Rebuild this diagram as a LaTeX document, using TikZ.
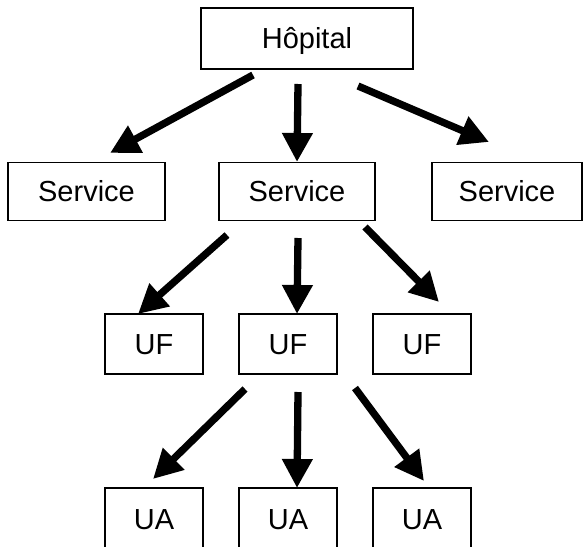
\documentclass[tikz,border=0pt]{standalone}
\usepackage{fontspec}
\setmainfont{Liberation Sans}
\usetikzlibrary{arrows.meta}
\begin{document}
\begin{tikzpicture}[x=1pt,y=-1pt,
  box/.style={draw, line width=1.6pt, inner sep=0pt, minimum width=#1,
    minimum height=58pt, font=\fontsize{29}{34}\selectfont,
    text height=20.8pt, text depth=0pt},
  box/.default=98pt,
  link/.style={line width=7.3pt, -{Triangle[length=29pt,width=29pt]}}]
\useasboundingbox (0,0) rectangle (583,546);
% top level
\node[box=212pt, minimum height=61pt] (hop) at (307,38.5) {Hôpital};
% services
\node[box=157pt] (s1) at (86.5,191.5) {Service};
\node[box=156pt] (s2) at (297,191.5) {Service};
\node[box=150pt] (s3) at (507,191.5) {Service};
% functional units
\node[box, minimum height=60pt] (uf1) at (154,344) {UF};
\node[box, minimum height=60pt] (uf2) at (288,344) {UF};
\node[box, minimum height=60pt] (uf3) at (422,344) {UF};
% care units (boxes run past the lower edge)
\node[box, minimum height=62pt] (ua1) at (154,519) {UA};
\node[box, minimum height=62pt] (ua2) at (288,519) {UA};
\node[box, minimum height=62pt] (ua3) at (422,519) {UA};
% arrow ends
\coordinate (h1) at (253,75);  \coordinate (t1) at (110,153);
\coordinate (h2) at (298,84);  \coordinate (t2) at (297,162);
\coordinate (h3) at (358,86);  \coordinate (t3) at (489,142);
\coordinate (f1) at (227,235); \coordinate (g1) at (138,314);
\coordinate (f2) at (298,238); \coordinate (g2) at (297,314);
\coordinate (f3) at (365,227); \coordinate (g3) at (439,302);
\coordinate (a1) at (245,389); \coordinate (b1) at (153,479);
\coordinate (a2) at (298,392); \coordinate (b2) at (297,488);
\coordinate (a3) at (355,388); \coordinate (b3) at (424,481);
\draw[link] (h1) -- (t1);
\draw[link] (h2) -- (t2);
\draw[link] (h3) -- (t3);
\draw[link] (f1) -- (g1);
\draw[link] (f2) -- (g2);
\draw[link] (f3) -- (g3);
\draw[link] (a1) -- (b1);
\draw[link] (a2) -- (b2);
\draw[link] (a3) -- (b3);
\end{tikzpicture}
\end{document}
